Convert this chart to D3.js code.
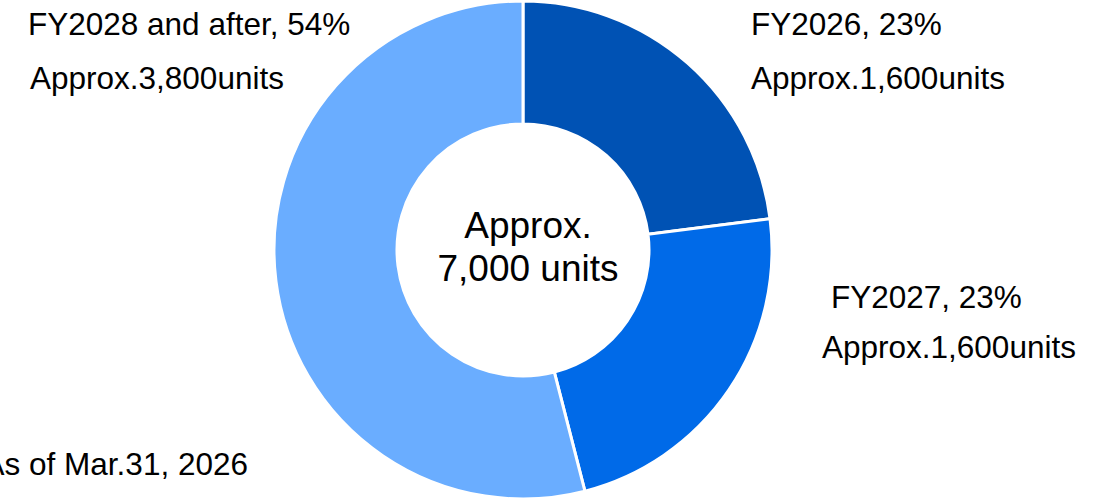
<!DOCTYPE html>
<html>
<head>
<meta charset="utf-8">
<script src="https://cdn.jsdelivr.net/npm/d3@7.9.0/dist/d3.min.js"></script>
<style>
    html, body { margin: 0; padding: 0; background: #fff; }
    svg { display: block; font-family: "Liberation Sans", Arial, sans-serif; }
</style>
</head>
<body>
<script>
"use strict";

const categories = ["FY2026", "FY2027", "FY2028 and after"];
const shares = [23, 23, 54];
const units = ["1,600", "1,600", "3,800"];
const colors = ["#0052b4", "#006ae8", "#6aadff"];
const totalLines = ["Approx.", "7,000 units"];
const footnote = "As of Mar.31, 2026";

// label anchor points (left edge, first baseline)
const labelPos = [
    { x: 751, y: 35, dx: 0 },
    { x: 831, y: 308, dx: -9 },
    { x: 28, y: 35, dx: 2 },
];

const width = 1106;
const height = 501;
const cx = 523, cy = 250;
const outerR = 249, innerR = 126;

const svg = d3.select("body").append("svg")
    .attr("width", width)
    .attr("height", height);

const pie = d3.pie().sort(null).value((d) => d);
const arc = d3.arc().innerRadius(innerR).outerRadius(outerR);

// Donut slices
svg.append("g")
    .attr("transform", `translate(${cx}, ${cy})`)
    .selectAll("path")
    .data(pie(shares))
    .join("path")
    .attr("d", arc)
    .attr("fill", (d, i) => colors[i])
    .attr("stroke", "#fff")
    .attr("stroke-width", 3);

// Centre text
svg.append("g")
    .selectAll("text")
    .data(totalLines)
    .join("text")
    .attr("x", cx + 5)
    .attr("y", (d, i) => 238 + i * 43)
    .attr("text-anchor", "middle")
    .style("font-size", "37px")
    .attr("fill", "#000")
    .text((d) => d);

// Slice labels
const labels = svg.append("g")
    .selectAll("g")
    .data(categories)
    .join("g")
    .attr("transform", (d, i) => `translate(${labelPos[i].x}, ${labelPos[i].y})`);

labels.append("text")
    .style("font-size", "31.5px")
    .text((d, i) => `${d}, ${shares[i]}%`);

labels.append("text")
    .attr("x", (d, i) => labelPos[i].dx)
    .attr("y", (d, i) => i === 1 ? 50 : 54)
    .style("font-size", "31.5px")
    .text((d, i) => `Approx.${units[i]}units`);

// Footnote, clipped at the left edge as in the source
svg.append("text")
    .attr("x", 248)
    .attr("y", 475)
    .attr("text-anchor", "end")
    .style("font-size", "31.5px")
    .text(footnote);
</script>
</body>
</html>
